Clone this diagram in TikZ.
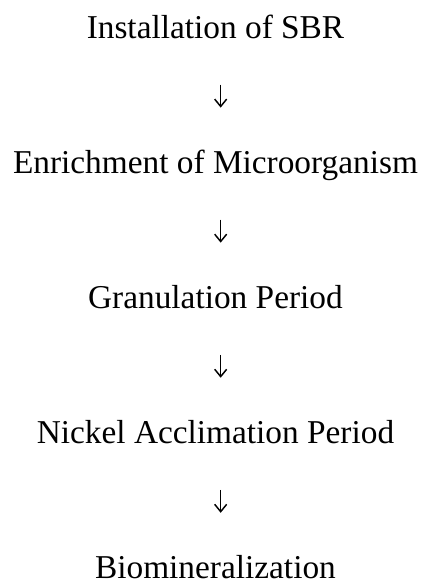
\documentclass[tikz,border=0pt]{standalone}
\usepackage{fontspec}
\setmainfont{Liberation Serif}
\usepackage{tikz}
\usetikzlibrary{arrows.meta,positioning}

\begin{document}
\begin{tikzpicture}[
  node distance=101.3pt,
  every node/.style={font=\fontsize{25}{30}\selectfont},
  stage/.style={inner sep=0pt, anchor=base},
  flow/.style={-{Straight Barb[length=5.5pt,width=9pt]}, line width=1.1pt, draw=black,
    shorten <=34.9pt, shorten >=49.2pt}
]
  \useasboundingbox (0,0) rectangle (324pt,-437.25pt);
  \node[stage] (install) at (161.6pt,-28.6pt) {Installation of SBR};
  \node[stage, below=of install.base, anchor=base] (enrich) {Enrichment of Microorganism};
  \node[stage, below=of enrich.base, anchor=base] (granul) {Granulation Period};
  \node[stage, below=of granul.base, anchor=base] (nickel) {Nickel Acclimation Period};
  \node[stage, below=of nickel.base, anchor=base] (biomin) {Biomineralization};

  \draw[flow] ([xshift=3.9pt]install.base) -- ([xshift=3.9pt]enrich.base);
  \draw[flow] ([xshift=3.9pt]enrich.base) -- ([xshift=3.9pt]granul.base);
  \draw[flow] ([xshift=3.9pt]granul.base) -- ([xshift=3.9pt]nickel.base);
  \draw[flow] ([xshift=3.9pt]nickel.base) -- ([xshift=3.9pt]biomin.base);
\end{tikzpicture}
\end{document}
